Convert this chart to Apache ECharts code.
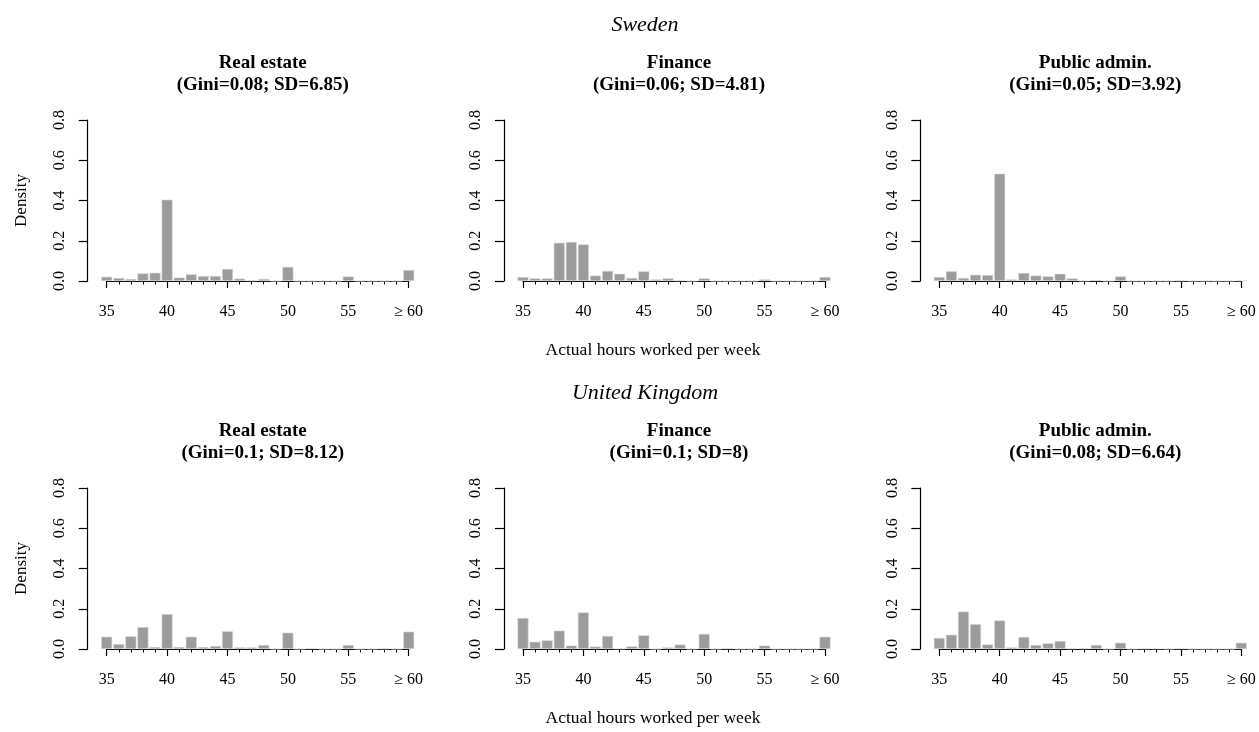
<!DOCTYPE html>
<html>
<head>
<meta charset="utf-8">
<script src="https://cdn.jsdelivr.net/npm/echarts@6/dist/echarts.min.js"></script>
<style>
html,body{margin:0;padding:0;background:#fff;}
#chart{width:1259px;height:732px;}
</style>
</head>
<body>
<div id="chart"></div>
<script>
// ---- Data ----
const hours = [35,36,37,38,39,40,41,42,43,44,45,46,47,48,49,50,51,52,53,54,55,56,57,58,59,60];
const xTickValues = [35,40,45,50,55,60];
const xTickLabels = ['35','40','45','50','55','\u2265 60'];
const yTickLabels = ['0.0','0.2','0.4','0.6','0.8'];

const countries = ['Sweden','United Kingdom'];
const sectors = ['Real estate','Finance','Public admin.'];
const stats = [
  ['(Gini=0.08; SD=6.85)','(Gini=0.06; SD=4.81)','(Gini=0.05; SD=3.92)'],
  ['(Gini=0.1; SD=8.12)','(Gini=0.1; SD=8)','(Gini=0.08; SD=6.64)']
];
const xTitle = 'Actual hours worked per week';
const yTitle = 'Density';

const seRealEstate = [0.021,0.015,0.010,0.038,0.041,0.404,0.017,0.033,0.025,0.025,0.060,0.012,0.003,0.010,0,0.070,0,0,0,0,0.023,0,0,0,0,0.055];
const seFinance    = [0.020,0.013,0.013,0.190,0.194,0.182,0.027,0.050,0.036,0.015,0.048,0.008,0.013,0.003,0,0.013,0,0,0,0,0.008,0,0,0,0,0.020];
const sePublic     = [0.020,0.048,0.015,0.031,0.030,0.533,0.008,0.040,0.027,0.023,0.036,0.013,0.001,0.005,0,0.023,0,0,0,0,0.002,0,0,0,0,0.002];
const ukRealEstate = [0.061,0.025,0.063,0.109,0.010,0.174,0.010,0.061,0.010,0.015,0.088,0.008,0.008,0.020,0,0.081,0,0.003,0,0,0.020,0,0,0.002,0,0.086];
const ukFinance    = [0.154,0.036,0.043,0.091,0.017,0.182,0.012,0.065,0.002,0.013,0.068,0,0.008,0.022,0,0.075,0,0.003,0,0,0.017,0,0,0,0,0.061];
const ukPublic     = [0.055,0.071,0.186,0.124,0.023,0.142,0.008,0.060,0.020,0.028,0.040,0.003,0.003,0.020,0,0.031,0,0.002,0.002,0,0.003,0,0,0,0,0.031];

const panels = [[seRealEstate,seFinance,sePublic],[ukRealEstate,ukFinance,ukPublic]];

// ---- Layout ----
const FONT = '"Liberation Serif", "DejaVu Serif", serif';
const gridLeft0 = 106.7, colStep = 416.3, gridW = 302;
const rowTop = [120, 488], gridH = 161;
const outerCx = 640;

const chart = echarts.init(document.getElementById('chart'), null, {renderer:'canvas'});
const grids = [], xAxes = [], yAxes = [], series = [], titles = [];

for (let r = 0; r < 2; r++) {
  titles.push({text: countries[r], left: outerCx, top: rowTop[r] - 111, textAlign: 'center',
    textStyle: {fontFamily: FONT, fontStyle: 'italic', fontWeight: 'normal', fontSize: 22, color: '#000'}});
  titles.push({text: xTitle, left: outerCx + 8, top: rowTop[r] + 216, textAlign: 'center',
    textStyle: {fontFamily: FONT, fontWeight: 'normal', fontSize: 17.5, color: '#000'}});
  for (let c = 0; c < 3; c++) {
    const idx = r*3 + c;
    const left = gridLeft0 + colStep*c;
    grids.push({left: left, top: rowTop[r], width: gridW, height: gridH, containLabel: false});
    titles.push({text: sectors[c] + '\n' + stats[r][c], left: left + gridW/2, top: rowTop[r] - 73, textAlign: 'center',
      textStyle: {fontFamily: FONT, fontWeight: 'bold', fontSize: 19, lineHeight: 22, color: '#000'}});
    xAxes.push({
      type: 'value', gridIndex: idx, min: 35, max: 60, interval: 5, offset: 12,
      axisLine: {show: true, lineStyle: {color: '#000', width: 1.2}},
      axisTick: {show: true, length: 7, lineStyle: {color: '#000', width: 1.2}},
      minorTick: {show: true, splitNumber: 5, length: 3.5, lineStyle: {color: '#000', width: 1}},
      splitLine: {show: false}, minorSplitLine: {show: false},
      axisLabel: {margin: 11, fontFamily: FONT, fontSize: 16, color: '#000',
        formatter: v => { const i = xTickValues.indexOf(v); return i >= 0 ? xTickLabels[i] : ''; }}
    });
    yAxes.push({
      type: 'value', gridIndex: idx, min: 0, max: 0.8, interval: 0.2, offset: 19,
      name: c === 0 ? yTitle : '', nameLocation: 'middle', nameGap: 58, nameRotate: 90,
      nameTextStyle: {fontFamily: FONT, fontSize: 17, color: '#000'},
      axisLine: {show: true, lineStyle: {color: '#000', width: 1.2}},
      axisTick: {show: true, length: 9, lineStyle: {color: '#000', width: 1.2}},
      splitLine: {show: false},
      axisLabel: {rotate: 90, margin: 20, fontFamily: FONT, fontSize: 16, color: '#000',
        formatter: v => yTickLabels[Math.round(v/0.2)]}
    });
    series.push({
      type: 'bar', xAxisIndex: idx, yAxisIndex: idx, clip: false, barWidth: 11,
      data: hours.map((h, i) => [h, panels[r][c][i]]),
      itemStyle: {color: '#9c9c9c', borderColor: '#d8d8d8', borderWidth: 0.6},
      silent: true, animation: false
    });
  }
}

chart.setOption({
  animation: false,
  backgroundColor: '#fff',
  title: titles,
  grid: grids,
  xAxis: xAxes,
  yAxis: yAxes,
  series: series
});
</script>
</body>
</html>
